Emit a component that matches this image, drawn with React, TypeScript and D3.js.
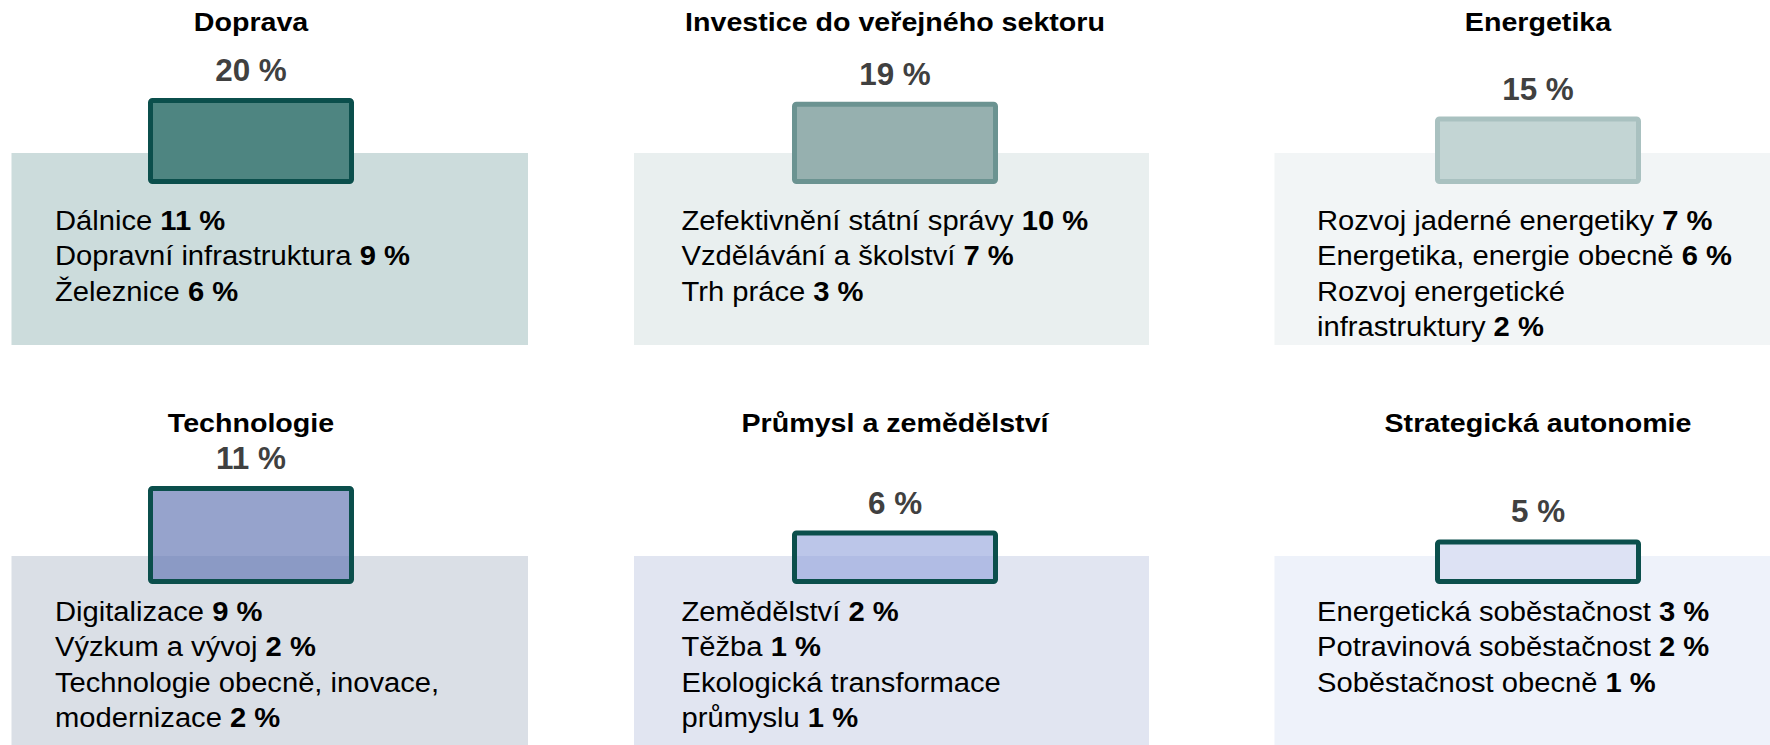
import * as d3 from "d3";
import React from "react";

// sector shares (%)
const sectors = [
  "Doprava",
  "Investice do veřejného sektoru",
  "Energetika",
  "Technologie",
  "Průmysl a zemědělství",
  "Strategická autonomie",
];
const shares = [20, 19, 15, 11, 6, 5];

// sub-items per sector ("\n" = line break)
const itemNames = [
  ["Dálnice", "Dopravní infrastruktura", "Železnice"],
  ["Zefektivnění státní správy", "Vzdělávání a školství", "Trh práce"],
  ["Rozvoj jaderné energetiky", "Energetika, energie obecně", "Rozvoj energetické\ninfrastruktury"],
  ["Digitalizace", "Výzkum a vývoj", "Technologie obecně, inovace,\nmodernizace"],
  ["Zemědělství", "Těžba", "Ekologická transformace\nprůmyslu"],
  ["Energetická soběstačnost", "Potravinová soběstačnost", "Soběstačnost obecně"],
];
const itemValues = [
  [11, 9, 6],
  [10, 7, 3],
  [7, 6, 2],
  [9, 2, 2],
  [2, 1, 1],
  [3, 2, 1],
];

const barFill = ["#4e8581", "#96b0af", "#c3d5d4", "#6a7cb6", "#93a3db", "#dde2f4"];
const barOpacity = [1, 1, 1, 0.7, 0.62, 1];
const barStroke = ["#0b4f4c", "#6b9391", "#a9c1c0", "#0b4f4c", "#0b4f4c", "#0b4f4c"];
const boxFill = ["#ccdcdc", "#e9efef", "#f2f5f6", "#dadfe6", "#e1e5f1", "#eef2fa"];

const W = 1770;
const H = 745;
const font = "'Liberation Sans', Arial, sans-serif";

// layout per column / row
const colCenter = [251, 895, 1538];
const barW = 206;
const colBoxX = [11.5, 634, 1274.5];
const colBoxW = [516.5, 515, 496];
const colTextX = [55, 681.5, 1317];
const rowTitleY = [31, 432];
const rowBarBottom = [184, 584];
const rowBoxTop = [153, 556];
const rowBoxBottom = [345, 745];
const rowTextY = [230, 621];
const lineH = 35.3;
const sw = 5;
const sx = 1.08; // text is a bit wide in the original

// bar heights, one scale per row
const rowScale = [
  d3.scaleLinear().domain([0, 20]).range([12, 86]),
  d3.scaleLinear().domain([0, 11]).range([0, 98]),
];

function Panel({ i }: { i: number }) {
  const col = i % 3;
  const row = Math.floor(i / 3);
  const h = rowScale[row](shares[i]);
  const cx = colCenter[col];
  const top = rowBarBottom[row] - h;

  // flatten items into lines
  const lines: { text: string; value?: number }[] = [];
  itemNames[i].forEach((name, k) => {
    const parts = name.split("\n");
    parts.forEach((p, j) => {
      lines.push({ text: p, value: j === parts.length - 1 ? itemValues[i][k] : undefined });
    });
  });

  return (
    <g>
      <rect
        x={colBoxX[col]}
        y={rowBoxTop[row]}
        width={colBoxW[col]}
        height={rowBoxBottom[row] - rowBoxTop[row]}
        fill={boxFill[i]}
      />
      <rect
        x={cx - barW / 2 + sw / 2}
        y={top + sw / 2}
        width={barW - sw}
        height={h - sw}
        rx={2}
        fill={barFill[i]}
        fillOpacity={barOpacity[i]}
        stroke={barStroke[i]}
        strokeWidth={sw}
      />
      <text
        transform={`translate(${cx},${rowTitleY[row]}) scale(${sx},1)`}
        textAnchor="middle"
        fontFamily={font}
        fontWeight="bold"
        fontSize={26.5}
        fill="#000"
      >
        {sectors[i]}
      </text>
      <text
        transform={`translate(${cx},${top - 17}) scale(1.03,1)`}
        textAnchor="middle"
        fontFamily={font}
        fontWeight="bold"
        fontSize={30.5}
        fill="#404040"
      >
        {shares[i]} %
      </text>
      {lines.map((l, k) => (
        <text
          key={k}
          transform={`translate(${colTextX[col]},${rowTextY[row] + k * lineH}) scale(${sx},1)`}
          fontFamily={font}
          fontSize={27}
          fill="#000"
        >
          {l.text}
          {l.value !== undefined && (
            <tspan fontWeight="bold"> {l.value} %</tspan>
          )}
        </text>
      ))}
    </g>
  );
}

export default function App() {
  return (
    <svg
      width={W}
      height={H}
      style={{ position: "absolute", left: 0, top: 0, background: "#fff" }}
    >
      {sectors.map((_, i) => (
        <Panel key={i} i={i} />
      ))}
    </svg>
  );
}
